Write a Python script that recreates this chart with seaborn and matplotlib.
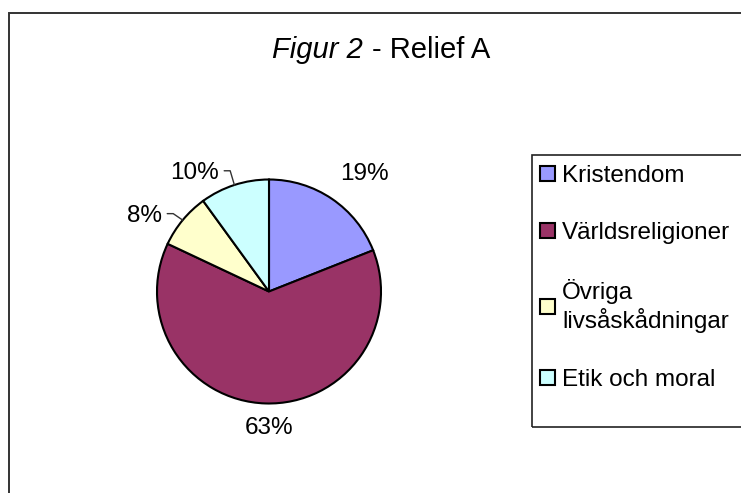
import numpy as np
import matplotlib
matplotlib.use("Agg")
import matplotlib.pyplot as plt
from matplotlib.patches import Rectangle
import seaborn as sns

# data
categories = ["Kristendom", "Världsreligioner", "Övriga\nlivsåskådningar", "Etik och moral"]
shares = [19, 63, 8, 10]
pct_labels = ["19%", "63%", "8%", "10%"]
colors = ["#9999FF", "#993366", "#FFFFCC", "#CCFFFF"]

# where the percent labels sit (shift from wedge middle in degrees, distance in radii)
label_shift = [-4.8, 1.8, 8.2, 14.0]
label_dist = [1.35, 1.22, 1.30, 1.25]
has_leader = [False, False, True, True]

sns.set_style("white")
plt.rcParams["font.family"] = ["Liberation Sans", "DejaVu Sans"]
plt.rcParams["text.color"] = "black"

W, H = 741, 493
fig = plt.figure(figsize=(W / 100, H / 100), dpi=100)
fig.patch.set_facecolor("white")


def fx(px):
    return px / W


def fy(py):
    return 1 - py / H


## chart area border (runs off the right and bottom edge)
fig.add_artist(Rectangle((fx(8.5), fy(H + 20)), 1, fy(13) - fy(H + 20),
                         transform=fig.transFigure, fill=False,
                         edgecolor="#333333", linewidth=1.4))

## pie
cx, cy, r = 269, 291.5, 112
ax = fig.add_axes([fx(cx - r), fy(cy + r), 2 * r / W, 2 * r / H])
wedges, _ = ax.pie(shares, colors=colors, startangle=90, counterclock=False,
                   wedgeprops=dict(edgecolor="black", linewidth=1.5))
ax.set_xlim(-1, 1)
ax.set_ylim(-1, 1)
ax.axis("off")

texts = []
for w, lab, sh, d in zip(wedges, pct_labels, label_shift, label_dist):
    ang = np.deg2rad((w.theta1 + w.theta2) / 2 + sh)
    t = ax.text(d * np.cos(ang), d * np.sin(ang), lab, ha="center", va="center",
                fontsize=17.5, color="black")
    texts.append(t)

## leader lines for the small slices
fig.canvas.draw()
inv = ax.transData.inverted()
for w, t, lead in zip(wedges, texts, has_leader):
    if not lead:
        continue
    bb = t.get_window_extent()
    ymid = (bb.y0 + bb.y1) / 2 + 2
    p0 = inv.transform((bb.x1 + 5, ymid))
    p1 = inv.transform((bb.x1 + 11, ymid))
    mid = np.deg2rad((w.theta1 + w.theta2) / 2)
    ax.plot([p0[0], p1[0], np.cos(mid)], [p0[1], p1[1], np.sin(mid)],
            color="#333333", linewidth=1, clip_on=False)

## legend
fig.add_artist(Rectangle((fx(531.7), fy(427)), 1, fy(155) - fy(427),
                         transform=fig.transFigure, fill=False,
                         edgecolor="#222222", linewidth=1.2))
fig.legend(wedges, categories, loc="upper left",
           bbox_to_anchor=(fx(540), fy(165)), borderaxespad=0, borderpad=0,
           frameon=False, fontsize=17.5, handlelength=0.62, handleheight=0.58,
           handletextpad=0.28, labelspacing=1.45, labelcolor="black")

## title: italic part + regular part
fig.text(fx(363), fy(57.5), "Figur 2", ha="right", va="baseline",
         fontsize=21, style="italic")
fig.text(fx(372), fy(57.5), "- Relief A", ha="left", va="baseline", fontsize=21)

fig.savefig("out.png", dpi=100)
